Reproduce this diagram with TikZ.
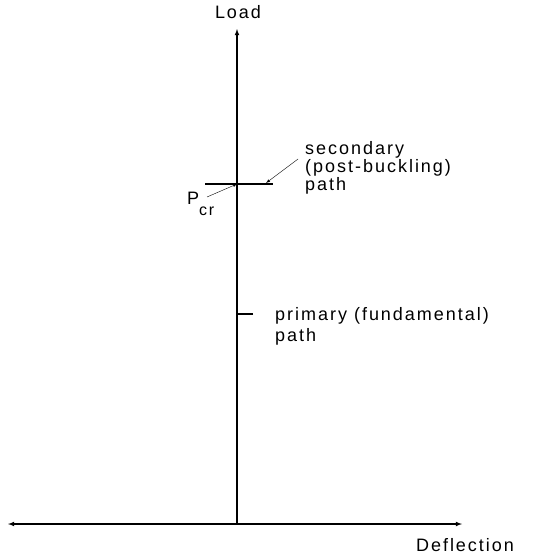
\documentclass[tikz,border=0pt]{standalone}
\usepackage{fontspec}
\setmainfont[LetterSpace=11]{Liberation Sans}
\usepackage{tikz}
\usetikzlibrary{arrows, positioning}
\tikzstyle{arrow} = [thin,-latex]
\tikzstyle{axis} = [line width=1.1pt,>=latex]
\tikzstyle{lbl} = [font=\fontsize{18}{18}\selectfont, inner sep=0pt]

\begin{document}
\begin{tikzpicture}[x=1pt,y=-1pt]
    \useasboundingbox (0,0) rectangle (534,557);
    \coordinate (o) at (237,524);
    \coordinate (ytop) at (237,29);
    \coordinate (xl) at (8,524);
    \coordinate (xr) at (462,524);
    \node (load) at (238,12) [lbl] {Load};
    \node (defl) at (465,545) [lbl] {Deflection};

    % Axes
    \draw[axis,->] (o) -- (ytop);
    \draw[axis,<->] (xl) -- (xr);

    % secondary path
    \coordinate (bif) at (237,184);
    \coordinate (sl) at (205,184);
    \coordinate (sr) at (273,184);
    \draw[line width=2.2pt] (sl) -- (sr);
    \node (sec) [lbl, anchor=west, align=left, font=\fontsize{18}{18}\selectfont] at (305,168)
        {secondary\\(post-buckling)\\path};
    \coordinate (sectail) at (298,159);
    \draw[arrow] (sectail) -- (266,183);

    % critical load
    \node (pcr) [lbl, anchor=base west] at (187,204)
        {P\raisebox{-0.65em}{\fontsize{16}{16}\selectfont cr}};
    \coordinate (pcrtail) at (207,197);
    \draw[arrow] (pcrtail) -- (bif);

    % primary path
    \node (prim) [lbl, anchor=west, align=left, font=\fontsize{18}{21}\selectfont] at (275,326)
        {primary (fundamental)\\path};
    \coordinate (primtail) at (253,314);
    \draw[line width=1.4pt] (primtail) -- (237,314);
\end{tikzpicture}
\end{document}
